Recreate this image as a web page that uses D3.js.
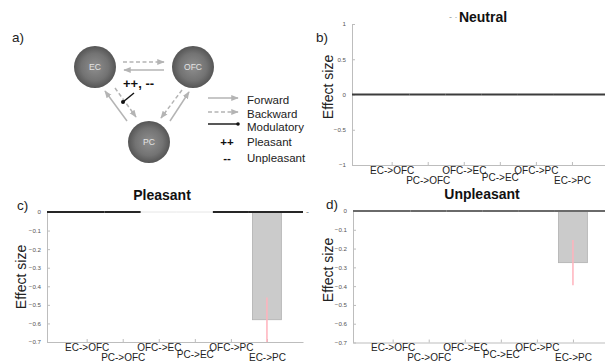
<!DOCTYPE html>
<html>
<head>
<meta charset="utf-8">
<script src="https://cdn.jsdelivr.net/npm/d3@7"></script>
<style>
  html, body { margin: 0; padding: 0; background: #fff; }
  svg { display: block; font-family: "Liberation Sans", Arial, Helvetica, sans-serif; }
</style>
</head>
<body>
<svg id="chart" width="605" height="363"></svg>
<script>
// ---------------- DATA ----------------
const categories = ["EC->OFC", "PC->OFC", "OFC->EC", "PC->EC", "OFC->PC", "EC->PC"];
const neutralValues = [0, 0, 0, 0, 0, 0];
const pleasantValues = [0, 0, null, null, 0, -0.58];
const unpleasantValues = [0, 0, 0, 0, 0, -0.275];
const neutralErrors = [0, 0, 0, 0, 0, 0];
const pleasantErrors = [0, 0, 0, 0, 0, 0.12];
const unpleasantErrors = [0, 0, 0, 0, 0, 0.12];
const neutralTicks = [-1, -0.5, 0, 0.5, 1];
const valenceTicks = [-0.7, -0.6, -0.5, -0.4, -0.3, -0.2, -0.1, 0];
const panelTitles = ["Neutral", "Pleasant", "Unpleasant"];
const panelLetters = ["a)", "b)", "c)", "d)"];
const diagramNodes = ["EC", "OFC", "PC"];
const legendItems = ["Forward", "Backward", "Modulatory", "Pleasant", "Unpleasant"];
const legendSymbols = ["", "", "", "++", "--"];
const modulationLabel = "++, --";
const yLabel = "Effect size";

// ---------------- DRAW ----------------
const svg = d3.select("#chart");
const defs = svg.append("defs");

const grad = defs.append("radialGradient").attr("id", "nodeGrad")
  .attr("cx", "50%").attr("cy", "50%").attr("r", "50%");
grad.append("stop").attr("offset", "0%").attr("stop-color", "#8e8e8e");
grad.append("stop").attr("offset", "65%").attr("stop-color", "#737373");
grad.append("stop").attr("offset", "100%").attr("stop-color", "#555");

defs.append("marker").attr("id", "arrow")
  .attr("viewBox", "0 0 10 10").attr("refX", 9).attr("refY", 5)
  .attr("markerWidth", 5).attr("markerHeight", 5).attr("orient", "auto")
  .append("path").attr("d", "M0,1 L10,5 L0,9 Z").attr("fill", "#b4b4b4");

const gray = "#b4b4b4";

// ----- Panel a: diagram -----
const ga = svg.append("g");
ga.append("text").attr("x", 12).attr("y", 42).attr("font-size", 13.5).attr("fill", "#222").text(panelLetters[0]);

const nodePos = { EC: [95, 67], OFC: [193, 67], PC: [149, 142] };
function arrow(x1, y1, x2, y2, dashed) {
  ga.append("line").attr("x1", x1).attr("y1", y1).attr("x2", x2).attr("y2", y2)
    .attr("stroke", gray).attr("stroke-width", 1.5)
    .attr("stroke-dasharray", dashed ? "4,2.5" : null)
    .attr("marker-end", "url(#arrow)");
}
// EC <-> OFC
arrow(123, 62, 164, 62, true);
arrow(164, 70, 124, 70, false);
// EC <-> PC
arrow(115, 88, 136, 117, true);
arrow(127, 121, 105, 91, false);
// OFC <-> PC
arrow(182, 90, 161, 118, true);
arrow(170, 121, 189, 92, false);

diagramNodes.forEach(n => {
  const [cx, cy] = nodePos[n];
  ga.append("circle").attr("cx", cx).attr("cy", cy).attr("r", 21).attr("fill", "url(#nodeGrad)");
  ga.append("text").attr("x", cx).attr("y", cy + 3).attr("text-anchor", "middle")
    .attr("font-size", 8.5).attr("fill", "#e4e4e4").text(n);
});

// modulatory
ga.append("line").attr("x1", 134).attr("y1", 93).attr("x2", 123).attr("y2", 102)
  .attr("stroke", "#111").attr("stroke-width", 1.4);
ga.append("circle").attr("cx", 123).attr("cy", 102).attr("r", 2).attr("fill", "#111");
ga.append("text").attr("x", 123).attr("y", 88).attr("font-size", 13).attr("font-weight", "bold")
  .attr("fill", "#111").text(modulationLabel);

// legend
const legY = [100, 114, 127, 142, 158];
legendItems.forEach((t, i) => {
  const y = legY[i];
  if (i === 0) arrowLeg(208, y - 2, 238, y - 2, false);
  if (i === 1) arrowLeg(208, y - 2, 238, y - 2, true);
  if (i === 2) {
    ga.append("line").attr("x1", 208).attr("y1", y - 3).attr("x2", 238).attr("y2", y - 3)
      .attr("stroke", "#111").attr("stroke-width", 1.4);
    ga.append("circle").attr("cx", 238).attr("cy", y - 3).attr("r", 1.8).attr("fill", "#111");
  }
  if (legendSymbols[i]) {
    ga.append("text").attr("x", 227).attr("y", y + 4).attr("text-anchor", "middle")
      .attr("font-size", 11.5).attr("font-weight", "bold").attr("fill", "#111").text(legendSymbols[i]);
  }
  ga.append("text").attr("x", 247).attr("y", y + 4).attr("font-size", 11.5).attr("fill", "#222").text(t);
});
function arrowLeg(x1, y1, x2, y2, dashed) {
  ga.append("line").attr("x1", x1).attr("y1", y1).attr("x2", x2).attr("y2", y2)
    .attr("stroke", gray).attr("stroke-width", 1.5)
    .attr("stroke-dasharray", dashed ? "4,2.5" : null)
    .attr("marker-end", "url(#arrow)");
}

// ----- Bar panels -----
function drawPanel(cfg) {
  const g = svg.append("g");
  const x = d3.scaleLinear().domain([-0.1, 7]).range(cfg.xRange);
  const y = d3.scaleLinear().domain(cfg.yDomain).range(cfg.yRange);
  const step = x(2) - x(1);
  const y0 = cfg.yRange[0];

  // y axis
  const ya = g.append("g").attr("transform", `translate(${cfg.xRange[0]},0)`)
    .call(d3.axisLeft(y).tickValues(cfg.ticks).tickSize(-3).tickSizeOuter(0).tickPadding(6)
      .tickFormat(d => d3.format("")(+d.toFixed(2))));
  ya.select(".domain").attr("stroke", "#bdbdbd").attr("stroke-width", 1);
  ya.selectAll(".tick line").attr("stroke", "#bdbdbd");
  ya.selectAll(".tick text").attr("font-size", 6.2).attr("fill", "#555").attr("font-family", null);

  // x axis
  const rowDy = [8.5, 18.5, 8.5, 15.5, 8.5, 18.5];
  const xa = g.append("g").attr("transform", `translate(0,${y0})`)
    .call(d3.axisBottom(x).tickValues(d3.range(1, categories.length + 1)).tickSize(-3).tickSizeOuter(0)
      .tickFormat(i => categories[i - 1]));
  xa.select(".domain").attr("stroke", "#bdbdbd").attr("stroke-width", 1);
  xa.selectAll(".tick line").attr("stroke", "#bdbdbd");
  xa.selectAll(".tick text").attr("font-size", 10).attr("fill", "#222").attr("font-family", null)
    .attr("dy", null).attr("y", (d, i) => rowDy[i]);

  // baseline segments at zero
  cfg.values.forEach((v, i) => {
    const c = i + 1;
    const xa1 = i === 0 ? cfg.xRange[0] : x(c - 0.5);
    const xa2 = i === cfg.values.length - 1 ? cfg.xRange[1] : x(c + 0.5);
    g.append("line").attr("x1", xa1).attr("x2", xa2).attr("y1", y(0)).attr("y2", y(0))
      .attr("stroke", v === null ? "#e6e6e6" : cfg.baseColor)
      .attr("stroke-width", v === null ? 1 : cfg.baseWidth);
  });

  // bars
  cfg.values.forEach((v, i) => {
    if (v === null || v === 0) return;
    const c = i + 1;
    g.append("rect").attr("x", x(c) - step * 0.4).attr("width", step * 0.8)
      .attr("y", y(Math.max(0, v))).attr("height", Math.abs(y(v) - y(0)))
      .attr("fill", "#cbcbcb").attr("stroke", "#b0b0b0").attr("stroke-width", 0.8);
  });
  // redraw baseline over bar tops
  cfg.values.forEach((v, i) => {
    if (v === null || v === 0) return;
    const c = i + 1;
    const xa1 = x(c - 0.5), xa2 = i === cfg.values.length - 1 ? cfg.xRange[1] : x(c + 0.5);
    g.append("line").attr("x1", xa1).attr("x2", xa2).attr("y1", y(0)).attr("y2", y(0))
      .attr("stroke", cfg.baseColor).attr("stroke-width", cfg.baseWidth);
  });
  // error lines
  cfg.values.forEach((v, i) => {
    const e = cfg.errors[i];
    if (v === null || !e) return;
    const c = i + 1;
    const lo = Math.max(cfg.yDomain[0], v - e), hi = Math.min(cfg.yDomain[1], v + e);
    g.append("line").attr("x1", x(c)).attr("x2", x(c)).attr("y1", y(hi)).attr("y2", y(lo))
      .attr("stroke", "#ffb3bd").attr("stroke-width", 1.5);
  });

  // title, letter, y label
  g.append("text").attr("x", cfg.title[1]).attr("y", cfg.title[2]).attr("text-anchor", "middle")
    .attr("font-size", 14).attr("font-weight", "bold").attr("fill", "#111").text(cfg.title[0]);
  g.append("text").attr("x", cfg.letter[1]).attr("y", cfg.letter[2]).attr("font-size", 13.5)
    .attr("fill", "#222").text(cfg.letter[0]);
  g.append("text").attr("transform", `translate(${cfg.ylab[0]},${cfg.ylab[1]}) rotate(-90)`)
    .attr("text-anchor", "middle").attr("font-size", 14).attr("fill", "#222").text(yLabel);
}

drawPanel({
  values: neutralValues, errors: neutralErrors, ticks: neutralTicks,
  xRange: [352, 608], yDomain: [-1, 1], yRange: [165, 24],
  baseColor: "#3c3c3c", baseWidth: 2,
  title: [panelTitles[0], 483, 22], letter: [panelLetters[1], 316, 42], ylab: [333, 87]
});
drawPanel({
  values: pleasantValues, errors: pleasantErrors, ticks: valenceTicks,
  xRange: [47, 303], yDomain: [-0.7, 0], yRange: [342, 212],
  baseColor: "#262626", baseWidth: 2,
  title: [panelTitles[1], 162, 200], letter: [panelLetters[2], 17, 210], ylab: [26, 277]
});
drawPanel({
  values: unpleasantValues, errors: unpleasantErrors, ticks: valenceTicks,
  xRange: [353, 609], yDomain: [-0.7, 0], yRange: [342.5, 211],
  baseColor: "#6a6a6a", baseWidth: 2.2,
  title: [panelTitles[2], 482, 198.5], letter: [panelLetters[3], 326, 209], ylab: [333, 270]
});

// faint stray marks seen in the reference
svg.append("text").attr("x", 449).attr("y", 20).attr("font-size", 9).attr("fill", "#999").text("- ·");
svg.append("text").attr("x", 306).attr("y", 215).attr("font-size", 9).attr("fill", "#888").text("-");
</script>
</body>
</html>
